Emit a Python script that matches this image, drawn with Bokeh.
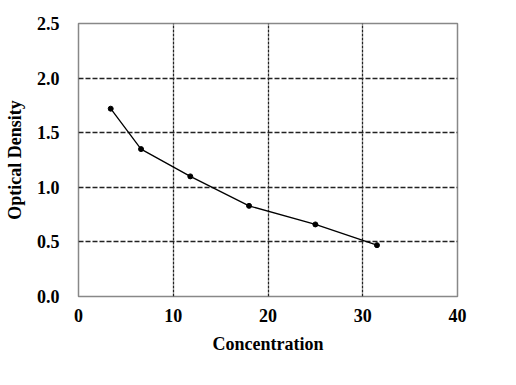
from bokeh.plotting import figure
from bokeh.models import Range1d, FixedTicker, CustomJSTickFormatter
from bokeh.embed import file_html
from bokeh.resources import INLINE

concentration = [3.4, 6.6, 11.8, 18.0, 25.0, 31.5]
optical_density = [1.72, 1.35, 1.10, 0.83, 0.66, 0.47]
x_ticks = [0, 10, 20, 30, 40]
y_ticks = [0.0, 0.5, 1.0, 1.5, 2.0, 2.5]

p = figure(width=500, height=369, output_backend="svg", toolbar_location=None,
           x_range=Range1d(0, 40), y_range=Range1d(0, 2.5),
           min_border_left=78, min_border_right=43, min_border_top=23, min_border_bottom=73)

p.line(concentration, optical_density, line_color="black", line_width=1.3)
p.scatter(concentration, optical_density, size=5, color="black")

font = "Liberation Serif"
p.xaxis.ticker = FixedTicker(ticks=x_ticks)
p.yaxis.ticker = FixedTicker(ticks=y_ticks)
p.yaxis.formatter = CustomJSTickFormatter(code="return tick.toFixed(1);")

for ax in (p.xaxis[0], p.yaxis[0]):
    ax.axis_line_color = None
    ax.major_tick_line_color = None
    ax.minor_tick_line_color = None
    ax.major_label_text_font = font
    ax.major_label_text_font_style = "bold"
    ax.major_label_text_font_size = "18px"
    ax.major_label_text_color = "black"
    ax.axis_label_text_font = font
    ax.axis_label_text_font_style = "bold"
    ax.axis_label_text_font_size = "18px"
    ax.axis_label_text_color = "black"

p.xaxis.axis_label = "Concentration"
p.yaxis.axis_label = "Optical Density"
p.xaxis.major_label_standoff = 6
p.xaxis.axis_label_standoff = 9
p.yaxis.major_label_standoff = 13
p.yaxis.axis_label_standoff = 9

p.xgrid.ticker = FixedTicker(ticks=[10, 20, 30])
p.ygrid.ticker = FixedTicker(ticks=[0.5, 1.0, 1.5, 2.0])
p.xgrid.grid_line_color = "#222222"
p.xgrid.grid_line_dash = "3 1"
p.xgrid.grid_line_width = 1.3
p.ygrid.grid_line_color = "#222222"
p.ygrid.grid_line_dash = "5 2"
p.ygrid.grid_line_width = 1.3

p.outline_line_color = "#888888"
p.outline_line_width = 1.5
p.background_fill_color = "white"
p.border_fill_color = "white"

open("out.html", "w").write(file_html(p, INLINE))
